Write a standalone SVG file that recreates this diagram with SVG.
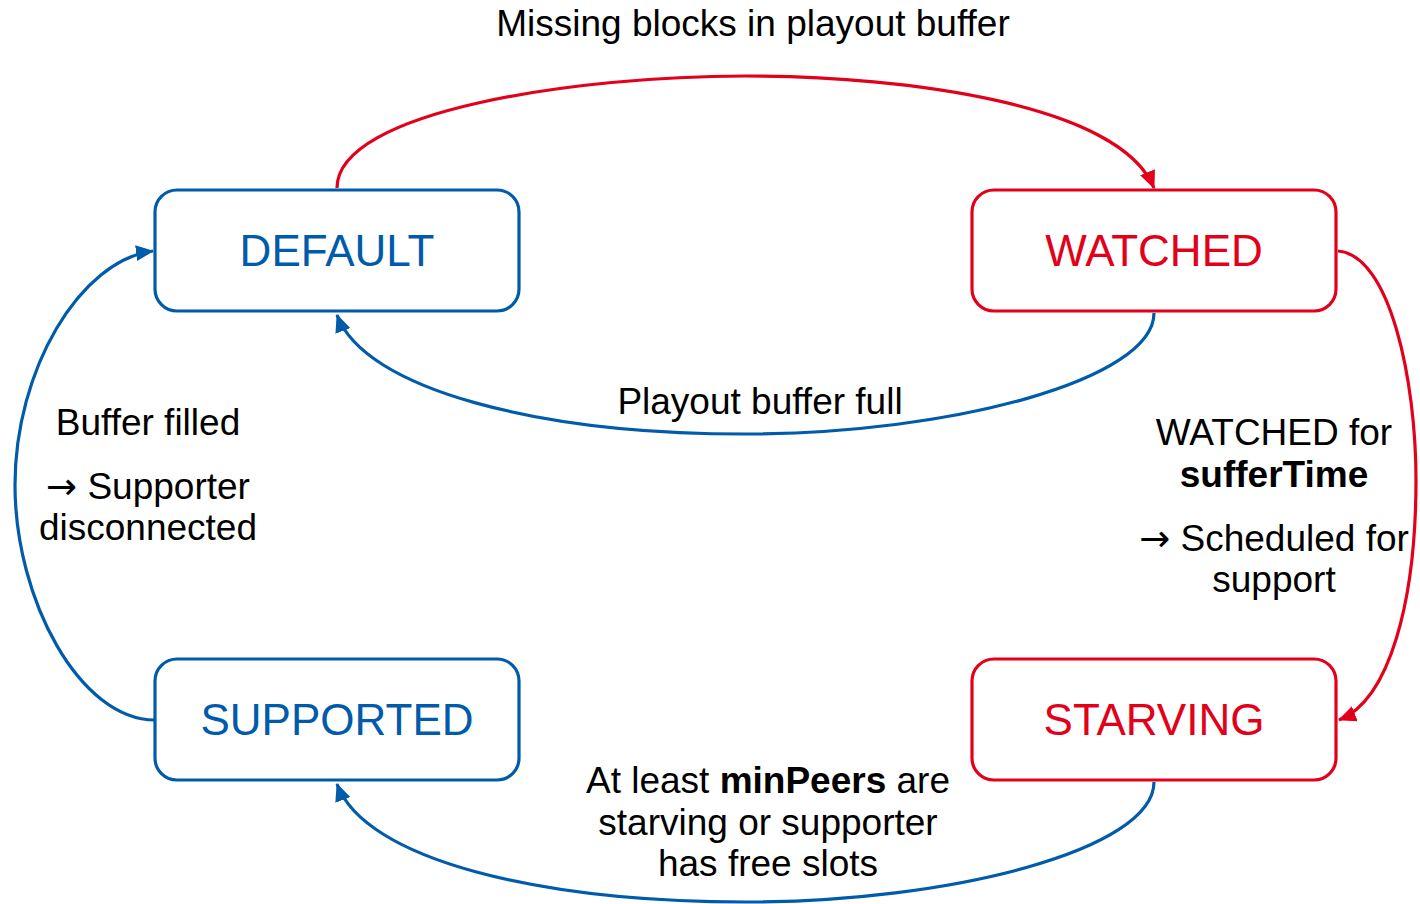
<svg xmlns="http://www.w3.org/2000/svg" width="1420" height="904" viewBox="0 0 1420 904">
  <style>
    .box { fill: #ffffff; stroke-width: 3.2; }
    .blue { stroke: #005BAA; }
    .red { stroke: #E2001A; }
    .state { font-family: "Liberation Sans", Arial, sans-serif; font-size: 44px; text-anchor: middle; }
    .lbl { font-family: "Liberation Sans", Arial, sans-serif; font-size: 37px; fill: #000000; text-anchor: middle; }
    .arw { font-family: "DejaVu Sans", sans-serif; }
    .edge { fill: none; stroke-width: 3.2; }
  </style>
  <defs>
    <marker id="arrowBlue" viewBox="0 0 18 16" refX="17" refY="8" markerWidth="18" markerHeight="16" markerUnits="userSpaceOnUse" orient="auto">
      <path d="M0,0 L18,8 L0,16 Z" fill="#005BAA"/>
    </marker>
    <marker id="arrowRed" viewBox="0 0 18 16" refX="17" refY="8" markerWidth="18" markerHeight="16" markerUnits="userSpaceOnUse" orient="auto">
      <path d="M0,0 L18,8 L0,16 Z" fill="#E2001A"/>
    </marker>
  </defs>
  <rect width="1420" height="904" fill="#ffffff"/>

  <!-- transitions -->
  <g id="connectors">
    <path class="edge red" d="M337,188 C337,110 580,76 745,76 C910,76 1120,105 1154,188" marker-end="url(#arrowRed)"/>
    <path class="edge blue" d="M1154,313 C1154,380 950,434 745,434 C540,434 365,390 337,315" marker-end="url(#arrowBlue)"/>
    <path class="edge red" d="M1338,251 C1390,255 1416,380 1416,480 C1416,600 1390,700 1339,720" marker-end="url(#arrowRed)"/>
    <path class="edge blue" d="M1154,782 C1154,850 950,902 745,902 C540,902 365,860 337,784" marker-end="url(#arrowBlue)"/>
    <path class="edge blue" d="M155,720 C80,720 15,600 15,485 C15,370 80,260 153,251" marker-end="url(#arrowBlue)"/>
  </g>

  <!-- states -->
  <g id="default">
    <rect class="box blue" x="155" y="190" width="364" height="121" rx="22"/>
    <text class="state" x="337" y="266" fill="#005BAA">DEFAULT</text>
  </g>
  <g id="watched">
    <rect class="box red" x="972" y="190" width="364" height="121" rx="22"/>
    <text class="state" x="1154" y="266" fill="#E2001A">WATCHED</text>
  </g>
  <g id="supported">
    <rect class="box blue" x="155" y="659" width="364" height="121" rx="22"/>
    <text class="state" x="337" y="735" fill="#005BAA">SUPPORTED</text>
  </g>
  <g id="starving">
    <rect class="box red" x="972" y="659" width="364" height="121" rx="22"/>
    <text class="state" x="1154" y="735" fill="#E2001A">STARVING</text>
  </g>

  <!-- transition labels -->
  <g id="labels">
    <text class="lbl" x="753" y="36">Missing blocks in playout buffer</text>
    <text class="lbl" x="760" y="414">Playout buffer full</text>
    <text class="lbl" x="148" y="435">Buffer filled</text>
    <text class="lbl" x="148" y="499"><tspan class="arw">→</tspan> Supporter</text>
    <text class="lbl" x="148" y="540">disconnected</text>
    <text class="lbl" x="1274" y="445">WATCHED for</text>
    <text class="lbl" x="1274" y="487" font-weight="bold">sufferTime</text>
    <text class="lbl" x="1274" y="551"><tspan class="arw">→</tspan> Scheduled for</text>
    <text class="lbl" x="1274" y="592">support</text>
    <text class="lbl" x="768" y="793">At least <tspan font-weight="bold">minPeers</tspan> are</text>
    <text class="lbl" x="768" y="835">starving or supporter</text>
    <text class="lbl" x="768" y="876">has free slots</text>
  </g>
</svg>
